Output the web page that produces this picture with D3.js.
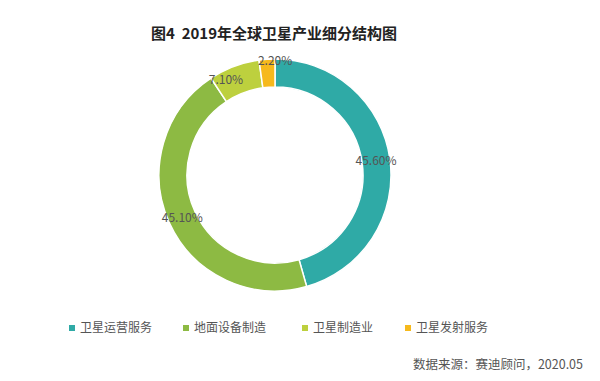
<!DOCTYPE html>
<html lang="zh">
<head>
<meta charset="UTF-8">
<title>2019年全球卫星产业细分结构图</title>
<script src="https://d3js.org/d3.v7.min.js"></script>
<style>
  body { margin: 0; background: #fff; }
  svg { display: block; font-family: "Noto Sans CJK SC", "Noto Sans", sans-serif; }
</style>
</head>
<body>
<svg id="chart" width="600" height="381"></svg>
<script>
// 数据
const categories = ["卫星运营服务", "地面设备制造", "卫星制造业", "卫星发射服务"];
const shares = [45.6, 45.1, 7.1, 2.2];
const colors = ["#2faaa6", "#8dba43", "#bdd03e", "#f6b91c"];

const svg = d3.select("#chart");
const cx = 275, cy = 175;
const outerR = 116, innerR = 88;

// 标题
svg.append("text")
  .attr("x", 274).attr("y", 39)
  .attr("text-anchor", "middle")
  .attr("font-size", 15).attr("font-weight", "bold")
  .attr("fill", "#222")
  .text("图4\u00a0\u00a02019年全球卫星产业细分结构图");

const pie = d3.pie().sort(null).value(d => d);
const arcs = pie(shares);
const arc = d3.arc().innerRadius(innerR).outerRadius(outerR);

const g = svg.append("g").attr("transform", `translate(${cx},${cy})`);

g.selectAll("path")
  .data(arcs)
  .join("path")
  .attr("d", arc)
  .attr("fill", (d, i) => colors[i])
  .attr("stroke", "#fff")
  .attr("stroke-width", 1.5);

// 小扇区的标签稍微挪一下
const labelArc = d3.arc().innerRadius(innerR).outerRadius(outerR);
const smallArc = d3.arc().innerRadius(outerR - 2).outerRadius(outerR - 2);

g.selectAll("text.lbl")
  .data(arcs)
  .join("text")
  .attr("class", "lbl")
  .attr("transform", d => {
    const p = d.value < 5 ? smallArc.centroid(d) : labelArc.centroid(d);
    const dx = d.value < 5 ? 8 : (d.value < 10 ? -13 : 0);
    return `translate(${p[0] + dx},${p[1] + 4})`;
  })
  .attr("text-anchor", "middle")
  .attr("font-size", 12)
  .attr("fill", "#555")
  .text(d => d.value.toFixed(2) + "%");

// 图例
const legendX = [69, 183, 302, 405];
const legend = svg.append("g");
categories.forEach((c, i) => {
  legend.append("rect")
    .attr("x", legendX[i]).attr("y", 325)
    .attr("width", 6).attr("height", 6)
    .attr("fill", colors[i]);
  legend.append("text")
    .attr("x", legendX[i] + 11).attr("y", 332)
    .attr("font-size", 12).attr("fill", "#555")
    .text(c);
});

// 来源
svg.append("text")
  .attr("x", 583).attr("y", 369)
  .attr("text-anchor", "end")
  .attr("font-size", 12.5).attr("fill", "#555")
  .text("数据来源：赛迪顾问，2020.05");
</script>
</body>
</html>
